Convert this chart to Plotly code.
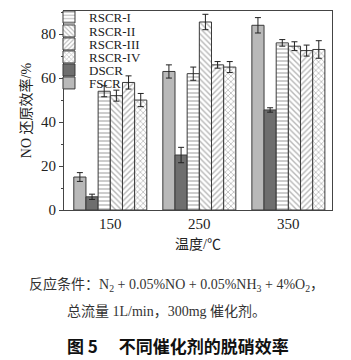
import plotly.graph_objects as go

temps = ["150", "250", "350"]
series = ["FSCR", "DSCR", "RSCR-I", "RSCR-II", "RSCR-III", "RSCR-IV"]
values = {
    "FSCR": [15, 63, 84],
    "DSCR": [6, 25, 45.5],
    "RSCR-I": [54, 62, 76],
    "RSCR-II": [52, 85.5, 74.5],
    "RSCR-III": [58, 66, 72.5],
    "RSCR-IV": [50, 65, 73],
}
errors = {
    "FSCR": [2, 3, 3.5],
    "DSCR": [1.2, 3.5, 1],
    "RSCR-I": [2.5, 3, 1.5],
    "RSCR-II": [2.5, 3.5, 2],
    "RSCR-III": [3, 1.5, 2.5],
    "RSCR-IV": [3, 2.5, 4],
}
styles = {
    "FSCR": dict(color="#b9b9b9", shape=""),
    "DSCR": dict(color="#6e6e6e", shape=""),
    "RSCR-I": dict(color="white", shape="-"),
    "RSCR-II": dict(color="white", shape="\\"),
    "RSCR-III": dict(color="white", shape="/"),
    "RSCR-IV": dict(color="white", shape="x"),
}
legend_order = ["RSCR-I", "RSCR-II", "RSCR-III", "RSCR-IV", "DSCR", "FSCR"]
legend_centers_px = [15, 29, 42, 55, 68, 81]

ph = 199.0
def py(pix):
    return (210 - pix) / ph
def px(pix):
    return (pix - 64) / 268.0

serif = "Liberation Serif, Noto Sans CJK SC, serif"
fig = go.Figure()
for s in series:
    st = styles[s]
    marker = dict(color=st["color"], line=dict(color="#3a3a3a", width=1))
    if st["shape"]:
        marker["pattern"] = dict(shape=st["shape"], fgcolor="#707070", bgcolor="white",
                                 size=4, solidity=0.35)
    idx = legend_order.index(s)
    lname = "legend" if idx == 0 else f"legend{idx + 1}"
    fig.add_trace(go.Bar(
        name=s, x=temps, y=values[s], marker=marker,
        error_y=dict(type="data", array=errors[s], color="#222", thickness=1, width=3),
        legend=lname,
    ))

legend_layout = {}
for i, s in enumerate(legend_order):
    lname = "legend" if i == 0 else f"legend{i + 1}"
    legend_layout[lname] = dict(
        x=-0.056, y=py(legend_centers_px[i] - 13), xanchor="left", yanchor="top",
        bgcolor="rgba(0,0,0,0)", font=dict(size=13, family=serif, color="#222"),
        itemwidth=30, borderwidth=0)

fig.update_layout(
    width=351, height=360,
    margin=dict(l=64, r=19, t=11, b=150, autoexpand=False),
    paper_bgcolor="white", plot_bgcolor="white",
    barmode="group", bargap=0.18, bargroupgap=0,
    font=dict(family=serif, size=14, color="#222"),
    showlegend=True,
    xaxis=dict(range=[-0.52, 2.49], showline=True, linecolor="#444", linewidth=1, mirror=True,
               ticks="", tickfont=dict(size=15, family=serif),
               title=dict(text="温度/℃", font=dict(size=14, family=serif), standoff=8)),
    yaxis=dict(range=[0, 90.5], showline=True, linecolor="#444", linewidth=1, mirror=True,
               tickvals=[0, 20, 40, 60, 80], ticks="outside", ticklen=4, showgrid=False,
               zeroline=False, tickfont=dict(size=15, family=serif),
               minor=dict(ticks="outside", ticklen=2, dtick=10),
               title=dict(text="NO 还原效率/%", font=dict(size=14, family=serif), standoff=6)),
    **legend_layout,
)

fig.add_annotation(text="反应条件：N<sub>2</sub> + 0.05%NO + 0.05%NH<sub>3</sub> + 4%O<sub>2</sub>，",
                   xref="paper", yref="paper", x=px(176), y=py(285), showarrow=False,
                   font=dict(size=14, family=serif, color="#333"), xanchor="center", yanchor="middle")
fig.add_annotation(text="总流量 1L/min，300mg 催化剂。",
                   xref="paper", yref="paper", x=px(166), y=py(311), showarrow=False,
                   font=dict(size=14, family=serif, color="#333"), xanchor="center", yanchor="middle")
fig.add_annotation(text="<b>图 5 　不同催化剂的脱硝效率</b>",
                   xref="paper", yref="paper", x=px(178), y=py(345), showarrow=False,
                   font=dict(size=17, family="Noto Sans CJK SC, sans-serif", color="#111"),
                   xanchor="center", yanchor="middle")

fig.write_html("out.html")
